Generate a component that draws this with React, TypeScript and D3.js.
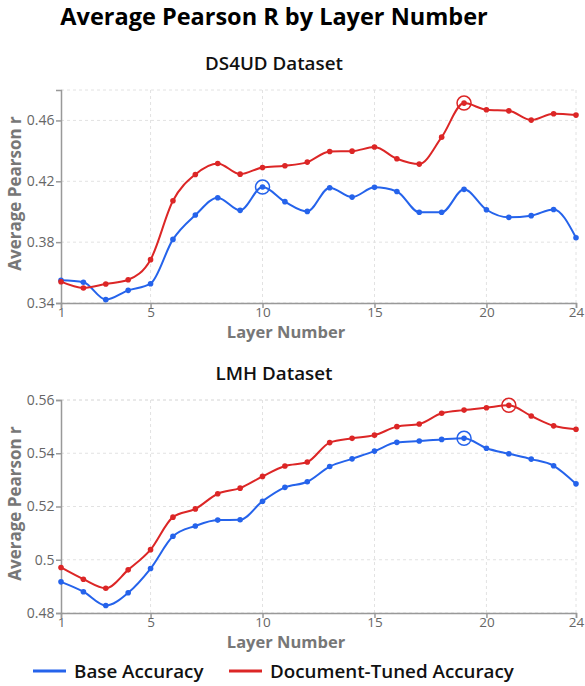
import { useEffect, useRef } from 'react';
import * as d3 from 'd3';

const layers = d3.range(1, 25);
const xTicks = [1, 5, 10, 15, 20, 24];

// DS4UD dataset
const ds4udBase = [0.3549, 0.3536, 0.3422, 0.3483, 0.3527, 0.3818, 0.3978, 0.4092, 0.4009, 0.4162, 0.4066, 0.4002,
  0.4158, 0.4096, 0.4160, 0.4133, 0.3996, 0.3996, 0.4147, 0.4013, 0.3963, 0.3974, 0.4015, 0.3829];
const ds4udTuned = [0.3540, 0.3499, 0.3525, 0.3553, 0.3685, 0.4072, 0.4245, 0.4317, 0.4247, 0.4291, 0.4302, 0.4326,
  0.4396, 0.4398, 0.4425, 0.4348, 0.4313, 0.4490, 0.4714, 0.4670, 0.4663, 0.4602, 0.4644, 0.4635];
const ds4udDomain = [0.34, 0.48];
const ds4udTicks = [0.34, 0.38, 0.42, 0.46];

// LMH dataset
const lmhBase = [0.4917, 0.4880, 0.4828, 0.4876, 0.4967, 0.5088, 0.5127, 0.5149, 0.5150, 0.5220, 0.5272, 0.5293,
  0.5350, 0.5379, 0.5408, 0.5441, 0.5446, 0.5452, 0.5456, 0.5419, 0.5398, 0.5378, 0.5353, 0.5285];
const lmhTuned = [0.4971, 0.4927, 0.4893, 0.4962, 0.5038, 0.5160, 0.5191, 0.5248, 0.5269, 0.5313, 0.5352, 0.5367,
  0.5440, 0.5456, 0.5468, 0.5500, 0.5510, 0.5550, 0.5562, 0.5571, 0.5580, 0.5540, 0.5503, 0.5490];
const lmhDomain = [0.48, 0.56];
const lmhTicks = [0.48, 0.5, 0.52, 0.54, 0.56];

const BLUE = '#2563eb';
const RED = '#dc2626';
const FONT = '"Open Sans", "Noto Sans", sans-serif';

const panels = [
  { title: 'DS4UD Dataset', base: ds4udBase, tuned: ds4udTuned, domain: ds4udDomain, ticks: ds4udTicks, top: 90, titleY: 70 },
  { title: 'LMH Dataset', base: lmhBase, tuned: lmhTuned, domain: lmhDomain, ticks: lmhTicks, top: 400, titleY: 380 },
];

const App = () => {
  const svgRef = useRef(null);

  useEffect(() => {
    document.body.style.margin = '0';
    const width = 585;
    const height = 686;
    const svg = d3.select(svgRef.current);
    svg.selectAll('*').remove();
    svg.attr('width', width).attr('height', height).style('font-family', FONT);

    svg.append('text')
      .attr('x', 274)
      .attr('y', 25)
      .attr('text-anchor', 'middle')
      .attr('font-size', 23.5)
      .attr('font-weight', 700)
      .attr('fill', '#000')
      .text('Average Pearson R by Layer Number');

    const left = 61;
    const right = 576;
    const plotH = 213;

    const x = d3.scaleLinear().domain([1, 24]).range([left, right]);

    panels.forEach(p => {
      const y = d3.scaleLinear().domain(p.domain).range([p.top + plotH, p.top]);
      const g = svg.append('g');

      g.append('text')
        .attr('x', 274)
        .attr('y', p.titleY)
        .attr('text-anchor', 'middle')
        .attr('font-size', 18.8)
        .attr('font-weight', 600)
        .attr('fill', '#111')
        .text(p.title);

      // grid
      const gridY = [...p.ticks, p.domain[1]];
      g.selectAll('.gy')
        .data(gridY)
        .enter()
        .append('line')
        .attr('x1', left)
        .attr('x2', right)
        .attr('y1', d => y(d))
        .attr('y2', d => y(d))
        .attr('stroke', '#e2e2e2')
        .attr('stroke-dasharray', '3,3');
      g.selectAll('.gx')
        .data(xTicks.slice(1))
        .enter()
        .append('line')
        .attr('x1', d => x(d))
        .attr('x2', d => x(d))
        .attr('y1', p.top)
        .attr('y2', p.top + plotH)
        .attr('stroke', '#e2e2e2')
        .attr('stroke-dasharray', '3,3');

      // axes
      const xAxis = g.append('g')
        .attr('transform', `translate(0,${p.top + plotH})`)
        .call(d3.axisBottom(x).tickValues(xTicks).tickSize(5).tickFormat(d3.format('d')));
      const yAxis = g.append('g')
        .attr('transform', `translate(${left},0)`)
        .call(d3.axisLeft(y).tickValues(p.ticks).tickSize(5).tickFormat(d => String(+(+d).toFixed(2))));
      [xAxis, yAxis].forEach(a => {
        a.select('.domain').attr('stroke', '#999').attr('stroke-width', 1.5);
        a.selectAll('.tick line').attr('stroke', '#999').attr('stroke-width', 1.5);
        a.selectAll('.tick text').attr('fill', '#666').attr('font-size', 14).attr('font-family', FONT);
      });
      xAxis.selectAll('.tick text').attr('y', 4).attr('dy', '0.71em').attr('font-size', 13.5);
      yAxis.selectAll('.tick text').attr('dx', '0.1em');

      g.append('text')
        .attr('x', 286)
        .attr('y', p.top + plotH + 35)
        .attr('text-anchor', 'middle')
        .attr('font-size', 16.5)
        .attr('font-weight', 700)
        .attr('fill', '#777')
        .text('Layer Number');

      g.append('text')
        .attr('transform', `translate(21,${p.top + plotH / 2 - 3}) rotate(-90)`)
        .attr('text-anchor', 'middle')
        .attr('font-size', 17)
        .attr('font-weight', 700)
        .attr('fill', '#777')
        .text('Average Pearson r');

      const line = d3.line<number>()
        .x((_, i) => x(layers[i]))
        .y(d => y(d))
        .curve(d3.curveMonotoneX);

      [{ vals: p.base, color: BLUE }, { vals: p.tuned, color: RED }].forEach(s => {
        g.append('path')
          .datum(s.vals)
          .attr('d', line)
          .attr('fill', 'none')
          .attr('stroke', s.color)
          .attr('stroke-width', 2);
        g.selectAll(null)
          .data(s.vals)
          .enter()
          .append('circle')
          .attr('cx', (_, i) => x(layers[i]))
          .attr('cy', d => y(d))
          .attr('r', 2.8)
          .attr('fill', s.color);
        const maxIdx = d3.maxIndex(s.vals);
        g.append('circle')
          .attr('cx', x(layers[maxIdx]))
          .attr('cy', y(s.vals[maxIdx]))
          .attr('r', 7)
          .attr('fill', 'none')
          .attr('stroke', s.color)
          .attr('stroke-width', 1.5);
      });
    });

    // legend
    const legend = [
      { label: 'Base Accuracy', color: BLUE, x: 33 },
      { label: 'Document-Tuned Accuracy', color: RED, x: 229 },
    ];
    const lg = svg.append('g');
    legend.forEach(l => {
      lg.append('line')
        .attr('x1', l.x)
        .attr('x2', l.x + 33)
        .attr('y1', 671)
        .attr('y2', 671)
        .attr('stroke', l.color)
        .attr('stroke-width', 3);
      lg.append('text')
        .attr('x', l.x + 41)
        .attr('y', 678)
        .attr('font-size', 18.8)
        .attr('font-weight', 600)
        .attr('fill', '#111')
        .text(l.label);
    });
  }, []);

  return (
    <div>
      <svg ref={svgRef}></svg>
    </div>
  );
};

export default App;
